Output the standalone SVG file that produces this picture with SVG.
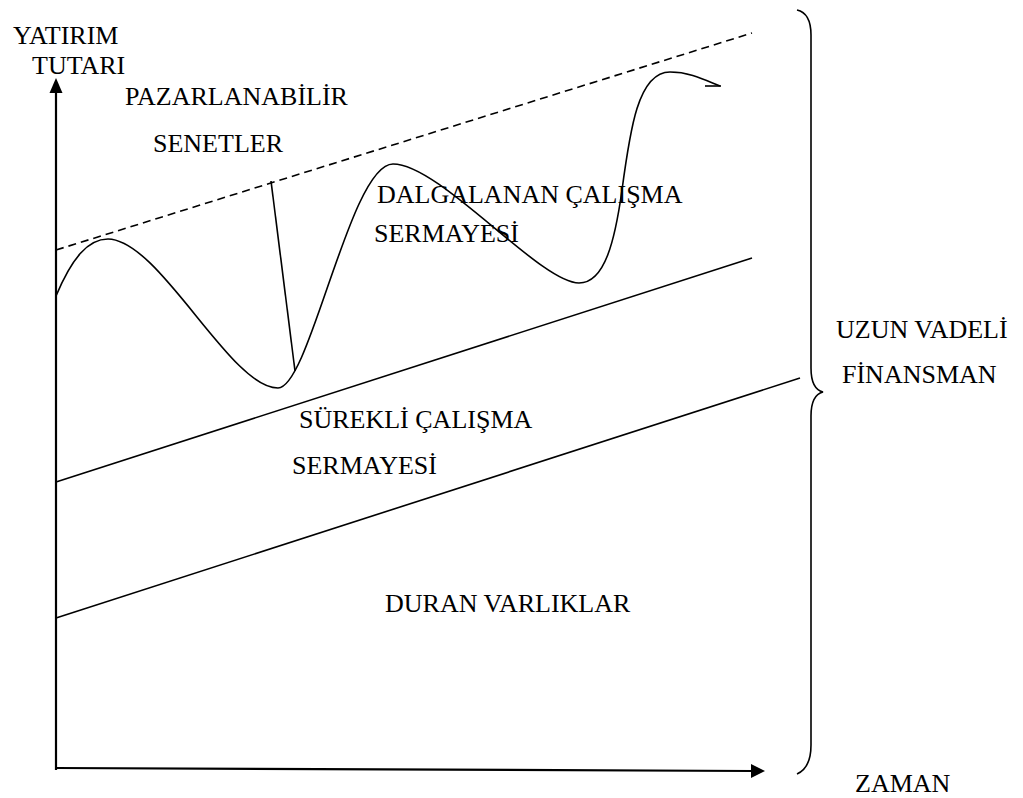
<svg xmlns="http://www.w3.org/2000/svg" width="1023" height="798" viewBox="0 0 1023 798">
<style>
text{font-family:"Liberation Serif","Times New Roman",serif;font-size:26px;fill:#000}
.ln{fill:none;stroke:#000;stroke-width:1.6}
.ax{fill:none;stroke:#000;stroke-width:2.2}
.ds{fill:none;stroke:#000;stroke-width:1.6;stroke-dasharray:8 5}
</style>
<rect width="1023" height="798" fill="#fff"/>
<g id="connectors">
<g id="axes">
<line class="ax" x1="56" y1="770" x2="56" y2="90"/>
<polygon points="56,78 49.5,93 62.5,93" fill="#000"/>
<line class="ax" x1="56" y1="768" x2="752" y2="771"/>
<polygon points="765,771 751,764 751,778" fill="#000"/>
</g>
<line id="dashed" class="ds" x1="56" y1="250" x2="752" y2="33"/>
<path id="wave" class="ln" d="M56,296 C72,258 88,239 108,239 C160,240 230,388 278,388 C310,388 350,164 393,164 C440,164 540,283 579,283 C605,283 615,240 622,190 C630,130 638,72 670,72 C690,72 705,80 720,86"/>
<line class="ln" x1="705" y1="86" x2="721" y2="86"/>
<line id="pointer" class="ln" x1="271" y1="181" x2="295" y2="371"/>
<line id="upper-line" class="ln" x1="56" y1="482" x2="752" y2="258"/>
<line id="lower-line" class="ln" x1="56" y1="618" x2="800" y2="378"/>
<path id="brace" class="ln" d="M797,10 C806,12 811,20 811,35 L811,368 C811,382 815,390 823,392 C815,394 811,402 811,416 L811,745 C811,762 806,770 797,774"/>
</g>
<g id="label-yatirim"><text x="13" y="44">YATIRIM</text><text x="32" y="74">TUTARI</text></g>
<g id="label-pazar"><text x="125" y="105">PAZARLANABİLİR</text><text x="153" y="152">SENETLER</text></g>
<g id="label-dalga"><text x="377" y="203">DALGALANAN ÇALIŞMA</text><text x="374" y="242">SERMAYESİ</text></g>
<g id="label-surekli"><text x="299" y="428">SÜREKLİ ÇALIŞMA</text><text x="292" y="474">SERMAYESİ</text></g>
<g id="label-duran"><text x="385" y="612">DURAN VARLIKLAR</text></g>
<g id="label-uzun"><text x="836" y="338">UZUN VADELİ</text><text x="842" y="383">FİNANSMAN</text></g>
<g id="label-zaman"><text x="855" y="792">ZAMAN</text></g>
</svg>
